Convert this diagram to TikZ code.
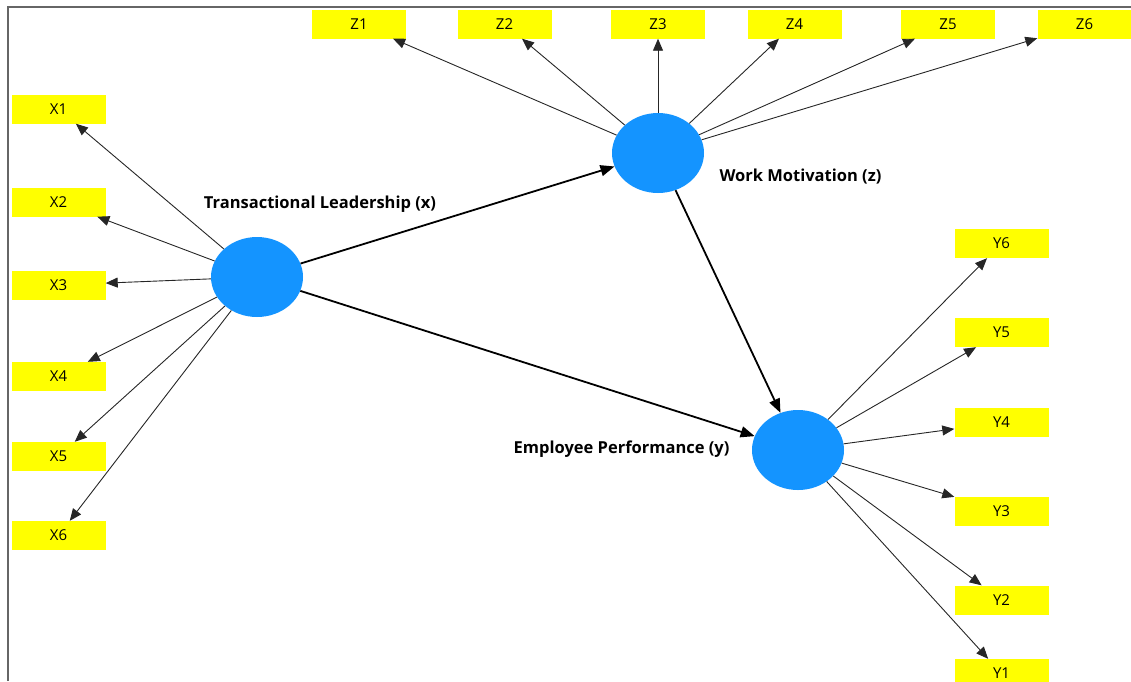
\documentclass[tikz,border=0pt]{standalone}
\usepackage{fontspec}
\setmainfont{Open Sans}
\usetikzlibrary{shapes.geometric,arrows.meta}
\definecolor{latentblue}{RGB}{20,148,255}
\definecolor{itemyellow}{RGB}{255,255,0}

\begin{document}
\begin{tikzpicture}[x=1pt, y=-1pt,
    latent/.style    = {ellipse, fill=latentblue, minimum width=92pt,
      minimum height=80pt, inner sep=0pt},
    indicator/.style = {rectangle, fill=itemyellow, minimum width=94pt,
      minimum height=29pt, inner sep=0pt, font=\fontsize{15}{17}\selectfont},
    lvname/.style    = {font=\fontsize{16.5}{18}\selectfont\bfseries},
    loading/.style   = {draw=black!85, line width=0.9pt,
      -{Triangle[length=12pt,width=10pt]}},
    structural/.style = {draw=black, line width=1.8pt,
      -{Triangle[length=14pt,width=11pt]}},
  ]
  \useasboundingbox (0,0) rectangle (1131,681);
  \draw[black!60, line width=1.2pt] (8,681) -- (8,7) -- (1131,7);

  \node[latent] (tl) at (257,277) {};
  \node[latent] (wm) at (658,153) {};
  \node[latent] (ep) at (798,450) {};

  \node[lvname] (tlname) at (320,204) {Transactional Leadership (x)};
  \node[lvname, anchor=west] (wmname) at (716,177) {Work Motivation (z)};
  \node[lvname, anchor=east] (epname) at (733,449) {Employee Performance (y)};

  \node[indicator] (x1) at (58.5,109) {X1};
  \node[indicator] (x2) at (58.5,202) {X2};
  \node[indicator] (x3) at (58.5,285) {X3};
  \node[indicator] (x4) at (58.5,376.5) {X4};
  \node[indicator] (x5) at (58.5,456.5) {X5};
  \node[indicator] (x6) at (58.5,535.5) {X6};

  \node[indicator] (z1) at (359,24) {Z1};
  \node[indicator] (z2) at (504.5,24) {Z2};
  \node[indicator] (z3) at (658,24) {Z3};
  \node[indicator] (z4) at (794.5,24) {Z4};
  \node[indicator] (z5) at (948,24) {Z5};
  \node[indicator] (z6) at (1084.5,24) {Z6};

  \node[indicator] (y6) at (1001.5,243.5) {Y6};
  \node[indicator] (y5) at (1001.5,332.5) {Y5};
  \node[indicator] (y4) at (1001.5,422.5) {Y4};
  \node[indicator] (y3) at (1001.5,511) {Y3};
  \node[indicator] (y2) at (1001.5,600) {Y2};
  \node[indicator] (y1) at (1001.5,673.5) {Y1};

  \draw[loading] (tl) -- (x1);
  \draw[loading] (tl) -- (x2);
  \draw[loading] (tl) -- (x3);
  \draw[loading] (tl) -- (x4);
  \draw[loading] (tl) -- (x5);
  \draw[loading] (tl) -- (x6);

  \draw[loading] (wm) -- (z1);
  \draw[loading] (wm) -- (z2);
  \draw[loading] (wm) -- (z3);
  \draw[loading] (wm) -- (z4);
  \draw[loading] (wm) -- (z5);
  \draw[loading] (wm) -- (z6);

  \draw[loading] (ep) -- (y6);
  \draw[loading] (ep) -- (y5);
  \draw[loading] (ep) -- (y4);
  \draw[loading] (ep) -- (y3);
  \draw[loading] (ep) -- (y2);
  \draw[loading] (ep) -- (y1);

  \draw[structural] (tl) -- (wm);
  \draw[structural] (tl) -- (ep);
  \draw[structural] (wm) -- (ep);
\end{tikzpicture}
\end{document}
